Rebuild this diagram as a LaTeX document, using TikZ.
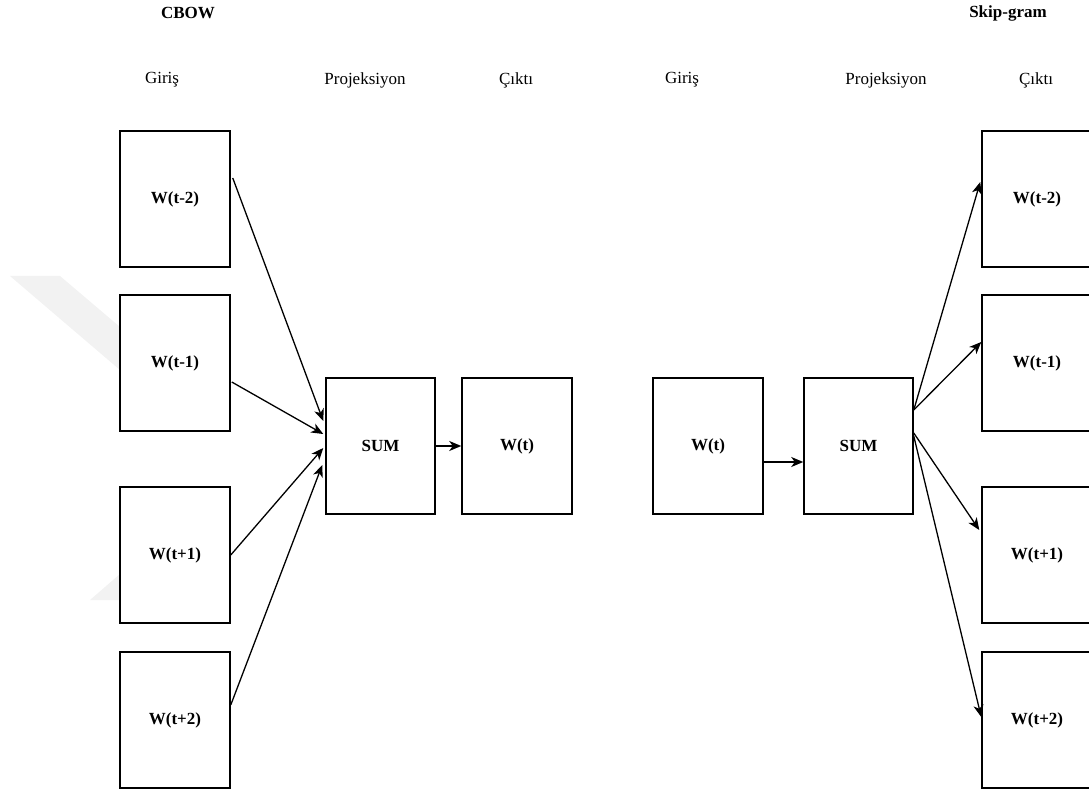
\documentclass[tikz,border=0pt]{standalone}
\usepackage{fontspec}
\setmainfont{Liberation Serif}
\usetikzlibrary{arrows.meta,calc}
\begin{document}
\begin{tikzpicture}[x=1pt,y=-1pt,
  wbox/.style={draw=black,line width=1.5pt,fill=white,minimum width=110pt,minimum height=136pt,inner sep=0pt,font=\fontsize{17}{20}\selectfont\bfseries},
  sbox/.style={wbox,minimum width=109pt},
  head/.style={font=\fontsize{17}{20}\selectfont,inner sep=0pt},
  title/.style={font=\fontsize{17}{20}\selectfont\bfseries,inner sep=0pt},
  conn/.style={line width=1.3pt,-{Stealth[length=12pt,width=10pt,inset=3.5pt]}}]
\useasboundingbox (0,0) rectangle (1089,791);
\clip (0,0) rectangle (1089,791);
% faint watermark
\fill[black!5] (10,276) -- (60,276) -- (120,327) -- (120,370) -- cycle;
\fill[black!5] (90,600) -- (120,600) -- (120,574) -- cycle;
% titles
\node[title] (tcbow) at (188,13) {CBOW};
\node[title] (tskip) at (1008,13) {Skip-gram};
% headings
\node[head] (h1) at (162,80) {Giriş};
\node[head] (h2) at (365,80) {Projeksiyon};
\node[head] (h3) at (516,80) {Çıktı};
\node[head] (h4) at (682,80) {Giriş};
\node[head] (h5) at (886,80) {Projeksiyon};
\node[head] (h6) at (1036,80) {Çıktı};
% CBOW
\node[wbox] (l1) at (175,199) {W(t-2)};
\node[wbox] (l2) at (175,363) {W(t-1)};
\node[wbox] (l3) at (175,555) {W(t+1)};
\node[wbox] (l4) at (175,720) {W(t+2)};
\node[sbox] (sl) at (380.5,446) {SUM};
\node[wbox] (ol) at (517,446) {W(t)};
% Skip-gram
\node[wbox] (ir) at (708,446) {W(t)};
\node[sbox] (sr) at (858.5,446) {SUM};
\node[wbox] (r1) at (1037,199) {W(t-2)};
\node[wbox] (r2) at (1037,363) {W(t-1)};
\node[wbox] (r3) at (1037,555) {W(t+1)};
\node[wbox] (r4) at (1037,720) {W(t+2)};
% CBOW connectors
\draw[conn] ([yshift=21pt,xshift=2pt]l1.east) -- ([yshift=25pt,xshift=-2pt]sl.west);
\draw[conn] ([yshift=-19pt,xshift=1pt]l2.east) -- ([yshift=12pt,xshift=-2pt]sl.west);
\draw[conn] (l3.east) -- ([yshift=-2pt,xshift=-2pt]sl.west);
\draw[conn] ([yshift=15pt]l4.east) -- ([yshift=-19pt,xshift=-3pt]sl.west);
\draw[conn] (sl.east) -- (ol.west);
% Skip-gram connectors
\draw[conn] ([yshift=-16pt]ir.east) -- ([yshift=-16pt]sr.west);
\draw[conn] ([yshift=36pt]sr.east) -- ([yshift=17pt,xshift=-1pt]r1.west);
\draw[conn] ([yshift=36pt]sr.east) -- ([yshift=21pt]r2.west);
\draw[conn] ([yshift=13pt]sr.east) -- ([yshift=25pt,xshift=-2pt]r3.west);
\draw[conn] ([yshift=10pt]sr.east) -- ([yshift=3pt]r4.west);
\end{tikzpicture}
\end{document}
